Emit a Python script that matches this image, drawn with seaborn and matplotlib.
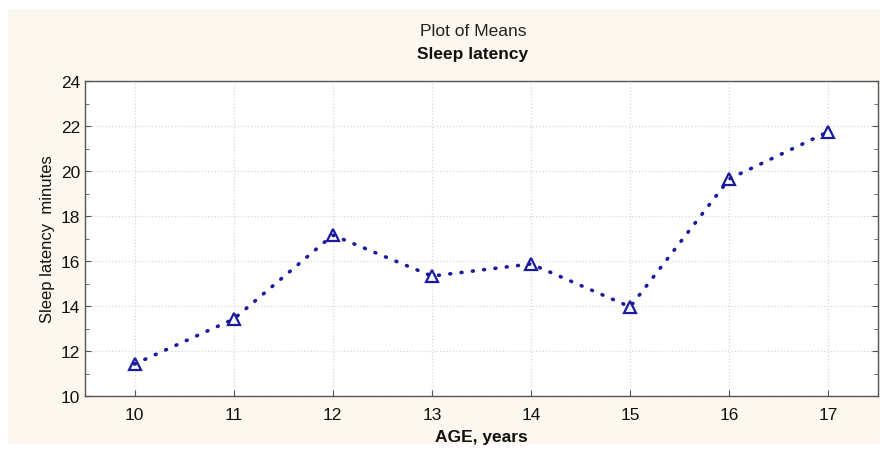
import numpy as np
import pandas as pd
import seaborn as sns
import matplotlib.pyplot as plt
from matplotlib.patches import Rectangle
from matplotlib.ticker import MultipleLocator

ages = [10, 11, 12, 13, 14, 15, 16, 17]
latency = [11.42, 13.42, 17.15, 15.33, 15.87, 13.96, 19.65, 21.75]

sns.set_style("white")
plt.rcParams['font.family'] = ['Liberation Sans Narrow', 'Liberation Sans', 'DejaVu Sans']

df = pd.DataFrame({'AGE': ages, 'latency': latency})

fig = plt.figure(figsize=(8.87, 4.52), dpi=100, facecolor='white')
# cream panel behind everything, white border round it
bg = Rectangle((8 / 887, 7 / 452), 872 / 887, 435 / 452,
               transform=fig.transFigure, facecolor='#fdf8ef',
               edgecolor='none', zorder=-10)
fig.add_artist(bg)
ax = fig.add_axes([85 / 887, 55 / 452, 793 / 887, 315 / 452])
ax.set_facecolor('white')
ax.set_zorder(1)

color = '#1a1a9e'
sns.lineplot(data=df, x='AGE', y='latency', ax=ax, color=color,
             marker='^', markersize=8.5, markerfacecolor='none',
             markeredgecolor=color, markeredgewidth=1.6,
             linewidth=2.6, linestyle=(0, (0.25, 2.9)),
             dash_capstyle='round')

ax.set_xlim(9.5, 17.5)
ax.set_ylim(10, 24)
ax.set_xticks(ages)
ax.yaxis.set_major_locator(MultipleLocator(2))
ax.yaxis.set_minor_locator(MultipleLocator(1))
ax.grid(True, which='major', color='#d8d8d8', linestyle=':', linewidth=0.9)
ax.tick_params(axis='both', which='both', direction='in', colors='#555555',
               labelcolor='#111111', labelsize=12.5)
ax.tick_params(axis='y', which='both', left=True, right=True)
ax.tick_params(axis='y', which='major', length=4)
ax.tick_params(axis='y', which='minor', length=3)
ax.tick_params(axis='x', which='major', bottom=True, length=4, pad=8)
for s in ax.spines.values():
    s.set_color('#555555')
    s.set_linewidth(1.0)

ax.set_xlabel('AGE, years', fontsize=12.5, fontweight='bold', color='#111111', labelpad=5)
ax.set_ylabel('Sleep latency  minutes', fontsize=12, color='#111111', labelpad=4)

fig.text(473 / 887, 1 - 32 / 452, 'Plot of Means', ha='center', va='center',
         fontsize=12.5, color='#222222')
fig.text(473 / 887, 1 - 55 / 452, 'Sleep latency', ha='center', va='center',
         fontsize=12.5, fontweight='bold', color='#111111')

fig.savefig('out.png', dpi=100, facecolor='white')
